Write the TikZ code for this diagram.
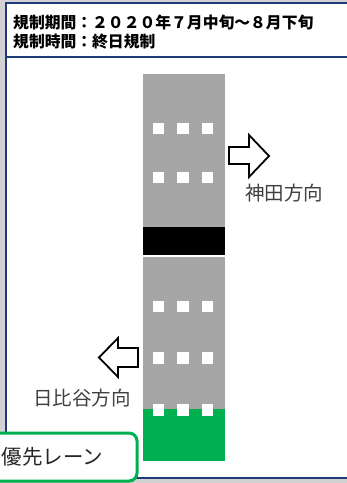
\documentclass[tikz,border=0pt]{standalone}
\usepackage{fontspec}
\newfontfamily\jp{Noto Sans CJK JP}
\definecolor{bgout}{HTML}{D2D2D2}
\definecolor{navy}{HTML}{1F3A78}
\definecolor{roadgray}{HTML}{A6A6A6}
\definecolor{lanegreen}{HTML}{00B050}
\definecolor{labelgray}{HTML}{404040}
\tikzset{
  lanemark/.style={fill=white, draw=none, minimum size=11.5pt, inner sep=0pt},
  dirarrow/.style={draw=black, line width=1.8pt, fill=white, line join=miter},
  dirlabel/.style={font=\jp\fontsize{19.5}{22}\selectfont, text=labelgray, inner sep=0pt},
  headtext/.style={font=\jp\bfseries\fontsize{15.8}{20}\selectfont, anchor=west, inner sep=0pt}
}
\begin{document}
\begin{tikzpicture}[x=1pt,y=-1pt]
\useasboundingbox (0,0) rectangle (347,483);
% outside background
\fill[bgout] (0,0) rectangle (347,483);
% frame
\fill[white] (6,3) rectangle (352,478);
\draw[navy, line width=2pt] (352,3) -- (6,3) -- (6,478) -- (352,478);
\draw[navy, line width=2.2pt] (6,57) -- (352,57);
% header text
\node[headtext] (h1) at (13,22) {規制期間：２０２０年７月中旬～８月下旬};
\node[headtext] (h2) at (13,42) {規制時間：終日規制};
% road
\fill[roadgray] (143,74) rectangle (225,227);
\fill[black] (143,227) rectangle (225,254.5);
\fill[roadgray] (143,257) rectangle (225,409);
\fill[lanegreen] (143,409) rectangle (225,461);
% white marks
\foreach \yy [count=\r] in {128.5,177.5,306.5,358,410}{
  \foreach \xx [count=\c] in {158.5,183,207.5}{
    \node[lanemark] (m\r\c) at (\xx,\yy) {};
  }
}
% arrows
\draw[dirarrow] (229,147) -- (249,147) -- (249,135) -- (269,156) -- (249,177) -- (249,164) -- (229,164) -- cycle;
\draw[dirarrow] (138,348) -- (118,348) -- (118,338) -- (99,357.5) -- (118,377) -- (118,367) -- (138,367) -- cycle;
\node[dirlabel, anchor=west] (kanda) at (245,193) {神田方向};
\node[dirlabel, anchor=east] (hibiya) at (131,398) {日比谷方向};
% priority lane box
\draw[lanegreen, line width=3pt, fill=white, rounded corners=8pt] (-12,433) rectangle (137,481);
\node[font=\jp\fontsize{20.5}{24}\selectfont, text=black!85, anchor=west, inner sep=0pt] (lane) at (1.5,457) {優先レーン};
\end{tikzpicture}
\end{document}
